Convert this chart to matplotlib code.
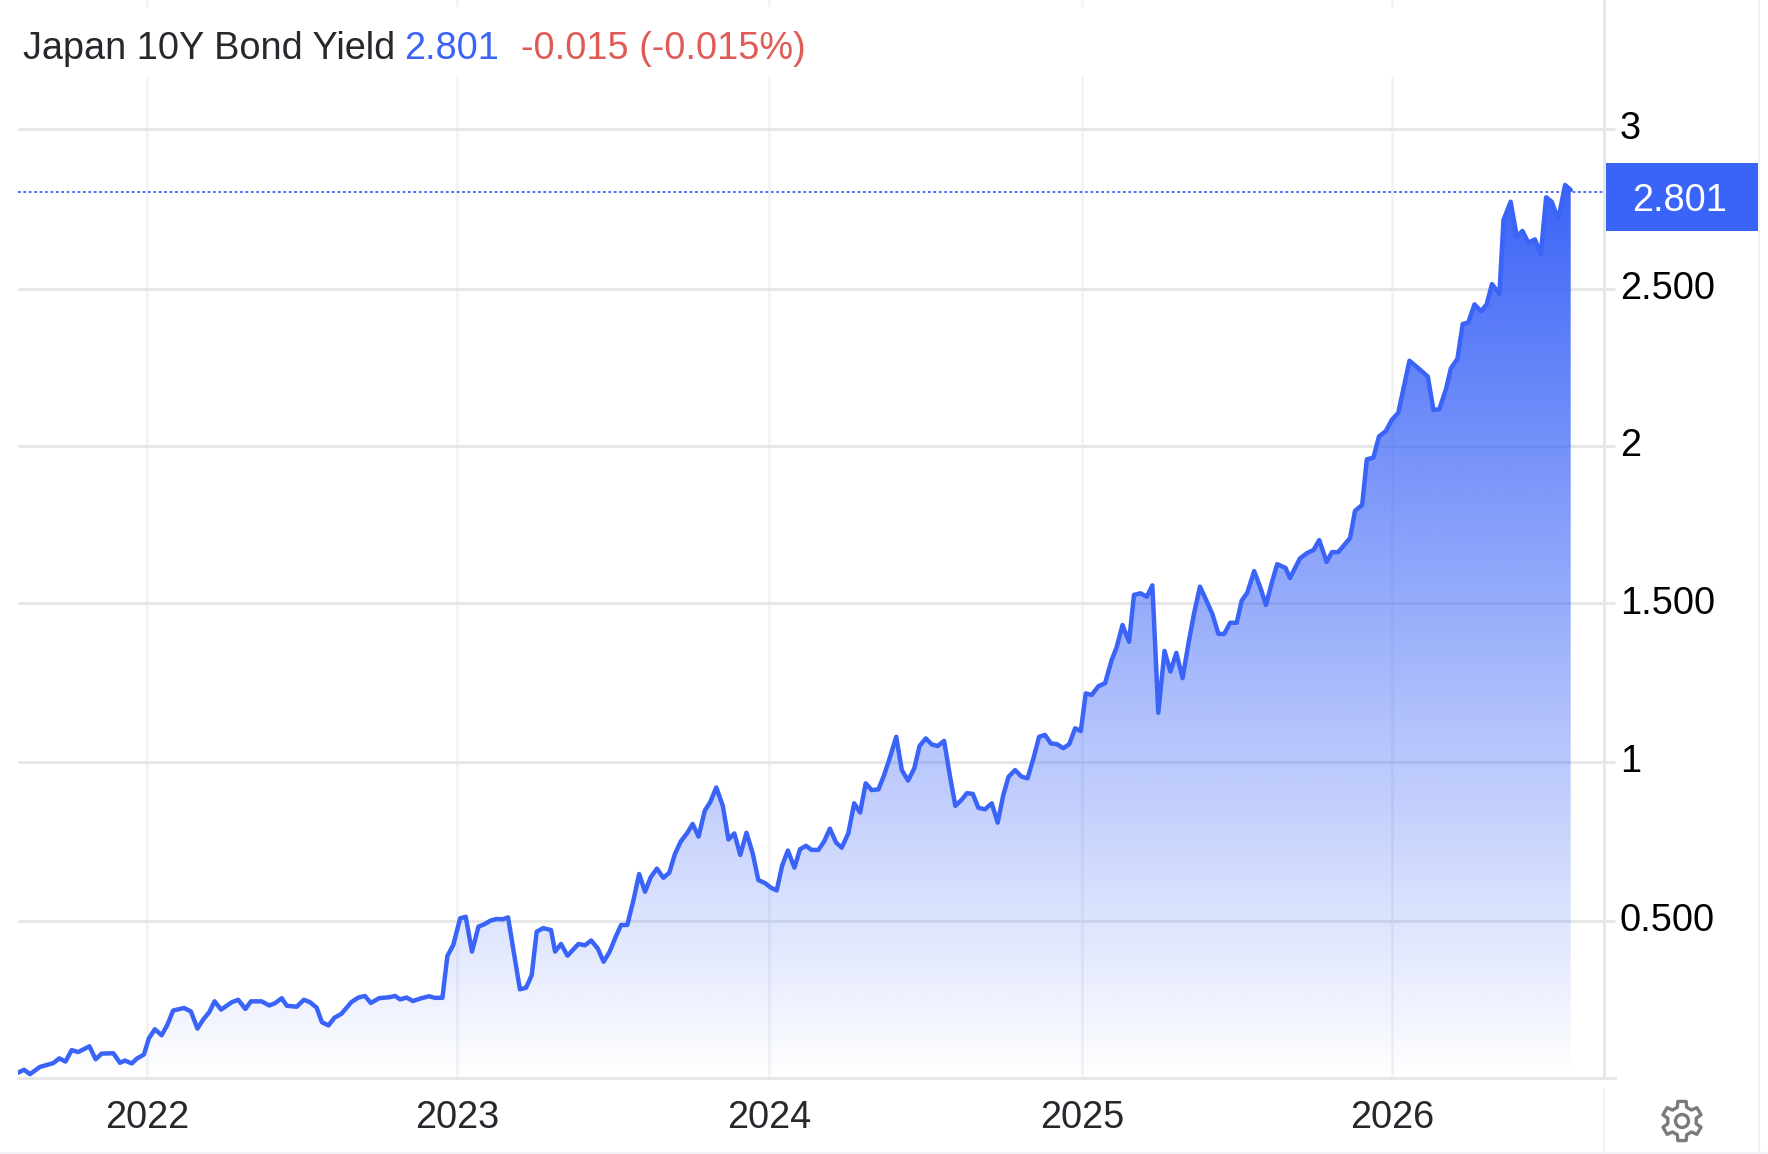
import numpy as np
import matplotlib
matplotlib.use("Agg")
import matplotlib.pyplot as plt
from matplotlib.patches import Polygon, Circle, Rectangle
from matplotlib.transforms import ScaledTranslation

# ---------------- DATA ----------------

dates = [
    2021.586, 2021.605, 2021.624, 2021.656, 2021.699, 2021.718, 2021.738, 2021.758, 2021.779, 2021.815,
    2021.835, 2021.854, 2021.892, 2021.913, 2021.929, 2021.951, 2021.967, 2021.990, 2022.006, 2022.025,
    2022.047, 2022.065, 2022.084, 2022.119, 2022.141, 2022.162, 2022.181, 2022.200, 2022.217, 2022.238,
    2022.272, 2022.293, 2022.316, 2022.334, 2022.368, 2022.393, 2022.411, 2022.433, 2022.449, 2022.481,
    2022.504, 2022.524, 2022.545, 2022.562, 2022.583, 2022.602, 2022.625, 2022.656, 2022.679, 2022.700,
    2022.719, 2022.746, 2022.779, 2022.797, 2022.813, 2022.834, 2022.854, 2022.882, 2022.906, 2022.925,
    2022.949, 2022.965, 2022.984, 2023.006, 2023.024, 2023.044, 2023.065, 2023.083, 2023.104, 2023.123,
    2023.143, 2023.160, 2023.198, 2023.218, 2023.236, 2023.252, 2023.273, 2023.298, 2023.311, 2023.330,
    2023.351, 2023.386, 2023.407, 2023.427, 2023.448, 2023.467, 2023.486, 2023.506, 2023.523, 2023.543,
    2023.563, 2023.581, 2023.600, 2023.618, 2023.638, 2023.659, 2023.678, 2023.696, 2023.715, 2023.736,
    2023.753, 2023.772, 2023.792, 2023.809, 2023.829, 2023.850, 2023.868, 2023.887, 2023.906, 2023.926,
    2023.946, 2023.964, 2023.986, 2024.004, 2024.023, 2024.041, 2024.059, 2024.080, 2024.098, 2024.117,
    2024.135, 2024.157, 2024.175, 2024.194, 2024.214, 2024.232, 2024.253, 2024.272, 2024.291, 2024.309,
    2024.328, 2024.350, 2024.368, 2024.385, 2024.407, 2024.425, 2024.445, 2024.465, 2024.482, 2024.502,
    2024.521, 2024.540, 2024.561, 2024.580, 2024.597, 2024.617, 2024.634, 2024.653, 2024.671, 2024.692,
    2024.714, 2024.733, 2024.751, 2024.768, 2024.789, 2024.810, 2024.829, 2024.848, 2024.866, 2024.885,
    2024.904, 2024.923, 2024.944, 2024.963, 2024.982, 2025.000, 2025.016, 2025.035, 2025.057, 2025.078,
    2025.099, 2025.115, 2025.134, 2025.155, 2025.171, 2025.192, 2025.212, 2025.230, 2025.249, 2025.269,
    2025.288, 2025.307, 2025.327, 2025.346, 2025.364, 2025.383, 2025.405, 2025.423, 2025.442, 2025.461,
    2025.480, 2025.501, 2025.517, 2025.535, 2025.557, 2025.576, 2025.595, 2025.613, 2025.631, 2025.658,
    2025.672, 2025.704, 2025.727, 2025.748, 2025.766, 2025.790, 2025.807, 2025.827, 2025.865, 2025.881,
    2025.904, 2025.919, 2025.940, 2025.958, 2025.980, 2025.999, 2026.020, 2026.056, 2026.085, 2026.115,
    2026.133, 2026.152, 2026.174, 2026.189, 2026.210, 2026.227, 2026.245, 2026.265, 2026.286, 2026.304,
    2026.321, 2026.345, 2026.358, 2026.381, 2026.401, 2026.419, 2026.438, 2026.459, 2026.478, 2026.495,
    2026.513, 2026.534, 2026.556, 2026.574,
]

yields = [
    0.021, 0.030, 0.016, 0.039, 0.051, 0.066, 0.056, 0.092, 0.086, 0.104,
    0.063, 0.081, 0.082, 0.052, 0.059, 0.050, 0.065, 0.078, 0.129, 0.158,
    0.139, 0.171, 0.217, 0.225, 0.214, 0.160, 0.189, 0.212, 0.246, 0.220,
    0.243, 0.251, 0.222, 0.246, 0.246, 0.233, 0.240, 0.256, 0.232, 0.229,
    0.251, 0.243, 0.226, 0.180, 0.170, 0.194, 0.207, 0.243, 0.258, 0.263,
    0.241, 0.256, 0.259, 0.263, 0.252, 0.258, 0.247, 0.256, 0.262, 0.257,
    0.257, 0.389, 0.424, 0.508, 0.513, 0.403, 0.482, 0.489, 0.501, 0.506,
    0.505, 0.511, 0.284, 0.289, 0.329, 0.466, 0.477, 0.471, 0.403, 0.427,
    0.390, 0.427, 0.423, 0.438, 0.413, 0.371, 0.402, 0.450, 0.487, 0.487,
    0.566, 0.648, 0.592, 0.637, 0.665, 0.636, 0.652, 0.711, 0.751, 0.778,
    0.806, 0.766, 0.848, 0.874, 0.921, 0.863, 0.757, 0.776, 0.708, 0.778,
    0.713, 0.629, 0.619, 0.605, 0.596, 0.676, 0.722, 0.668, 0.726, 0.737,
    0.724, 0.724, 0.750, 0.791, 0.747, 0.731, 0.776, 0.871, 0.842, 0.934,
    0.913, 0.915, 0.960, 1.010, 1.081, 0.976, 0.943, 0.981, 1.052, 1.076,
    1.057, 1.052, 1.068, 0.955, 0.863, 0.882, 0.903, 0.901, 0.857, 0.852,
    0.871, 0.810, 0.897, 0.955, 0.976, 0.955, 0.950, 1.013, 1.081, 1.087,
    1.060, 1.058, 1.045, 1.058, 1.108, 1.099, 1.218, 1.213, 1.241, 1.250,
    1.323, 1.363, 1.434, 1.381, 1.529, 1.534, 1.523, 1.559, 1.157, 1.352,
    1.287, 1.346, 1.266, 1.376, 1.471, 1.555, 1.508, 1.468, 1.406, 1.406,
    1.441, 1.441, 1.511, 1.536, 1.604, 1.555, 1.497, 1.565, 1.626, 1.614,
    1.582, 1.644, 1.661, 1.671, 1.702, 1.633, 1.664, 1.664, 1.708, 1.794,
    1.813, 1.957, 1.962, 2.029, 2.046, 2.081, 2.104, 2.268, 2.244, 2.218,
    2.113, 2.115, 2.181, 2.244, 2.274, 2.384, 2.389, 2.446, 2.424, 2.446,
    2.510, 2.479, 2.712, 2.770, 2.660, 2.678, 2.641, 2.651, 2.605, 2.784,
    2.770, 2.714, 2.823, 2.807,
]

# year lines sit on the first trading day, so not exactly on the round number
year_ticks = [2022.0, 2022.995, 2023.998, 2025.004, 2026.0]
year_labels = ["2022", "2023", "2024", "2025", "2026"]
value_ticks = [0.5, 1.003, 1.502, 1.999, 2.495, 3.0]
value_labels = ["0.500", "1", "1.500", "2", "2.500", "3"]

last_value = 2.801

# ---------------- STYLE ----------------

BLUE = "#3a63f7"
RED = "#e05a56"
GRID_H = "#e6e6e6"
GRID_V = "#f0f2f5"
DARK = "#25282c"
FS = 27.3

plt.rcParams['font.family'] = ['Liberation Sans', 'DejaVu Sans']

W, H = 1768, 1154
fig = plt.figure(figsize=(W / 100, H / 100), dpi=100, facecolor='white')


def fx(px):
    return px / W


def fy(py):
    return 1 - py / H


# ---------------- MAIN AXES ----------------

ax = fig.add_axes([fx(18), fy(1078), fx(1604 - 18), 1078 / H])

# filled area, gradient is an image clipped to the area under the line
area = ax.fill_between(dates, yields, 0, color='none', linewidth=0)
grad = np.zeros((256, 2, 4))
grad[..., :3] = matplotlib.colors.to_rgb(BLUE)
grad[..., 3] = np.linspace(1, 0, 256)[:, None]
img = ax.imshow(grad, extent=[dates[0], dates[-1], 0.004, 2.83],
                aspect='auto', zorder=3, interpolation='bilinear')
clip = Polygon(np.array(area.get_paths()[0].vertices), closed=True,
               transform=ax.transData, facecolor='none', edgecolor='none')
ax.add_patch(clip)
img.set_clip_path(clip)

ax.plot(dates, yields, color=BLUE, linewidth=3.2, solid_joinstyle='round',
        solid_capstyle='round', zorder=4)
ax.axhline(last_value, color=BLUE, linewidth=1.3, linestyle=(0, (1.5, 1.5)),
           zorder=5)

ax.set_xlim(2021.5855, 2026.681)
ax.set_ylim(0.004, 3.4068)

ax.set_xticks(year_ticks)
ax.set_xticklabels(year_labels, fontsize=FS, color=DARK)
ax.set_yticks(value_ticks)
ax.set_yticklabels(value_labels, fontsize=FS, color='black')
ax.yaxis.tick_right()

ax.tick_params(axis='x', length=0, pad=15.5)
ax.tick_params(axis='y', length=8, width=2.0, color=GRID_H, pad=3.5)

# y labels sit a bit above their lines
lift = ScaledTranslation(0, 3.5 / 100, fig.dpi_scale_trans)
for label in ax.get_yticklabels():
    label.set_transform(label.get_transform() + lift)

ax.grid(axis='y', color=GRID_H, linewidth=2.0, zorder=1)
ax.grid(axis='x', color=GRID_V, linewidth=1.9, zorder=1)
ax.set_axisbelow(True)

# white band behind the title cuts the year lines
ax.axhspan(3.164, 3.385, color='white', linewidth=0, zorder=2)

for side in ['top', 'left']:
    ax.spines[side].set_visible(False)
for side in ['bottom', 'right']:
    ax.spines[side].set_color(GRID_H)
    ax.spines[side].set_linewidth(2.0)

# ---------------- TITLE ----------------

fig.text(fx(23), fy(59), "Japan 10Y Bond Yield", fontsize=FS, color=DARK,
         ha='left', va='baseline')
fig.text(fx(404), fy(59), "2.801", fontsize=FS, color=BLUE,
         ha='left', va='baseline')
fig.text(fx(521), fy(59), "-0.015 (-0.015%)", fontsize=FS, color=RED,
         ha='left', va='baseline')

# ---------------- PAGE OVERLAY ----------------

over = fig.add_axes([0, 0, 1, 1], facecolor='none')
over.set_xlim(0, W)
over.set_ylim(H, 0)
over.axis('off')

# current value box
over.add_patch(Rectangle((1606, 163), 152, 68, facecolor=BLUE, edgecolor='none'))
over.text(1680, 211, "2.801", fontsize=FS, color='white', ha='center', va='baseline')

# frame lines
over.plot([1604, 1615], [1078, 1078], color=GRID_H, linewidth=2.0)
over.plot([1604, 1604], [1090, 1152], color=GRID_V, linewidth=1.5)
over.plot([0, W], [1153, 1153], color=GRID_V, linewidth=1.5)
over.plot([1759, 1759], [0, H], color=GRID_V, linewidth=1.5)

# gear icon
cx, cy = 1682, 1121
angles = []
radii = []
for k in range(6):
    a = k * 60 - 90
    angles += [a - 12, a + 12, a + 19, a + 41]
    radii += [20, 20, 14.5, 14.5]
angles = np.radians(angles)
radii = np.array(radii)
gear = np.column_stack([cx + radii * np.cos(angles), cy + radii * np.sin(angles)])
over.add_patch(Polygon(gear, closed=True, facecolor='none', edgecolor='#7b7b7b',
                       linewidth=2.4, joinstyle='round'))
over.add_patch(Circle((cx, cy), 6.5, facecolor='none', edgecolor='#7b7b7b', linewidth=2.4))

# ---------------- SAVE ----------------

fig.savefig("out.png", dpi=100, facecolor='white')
